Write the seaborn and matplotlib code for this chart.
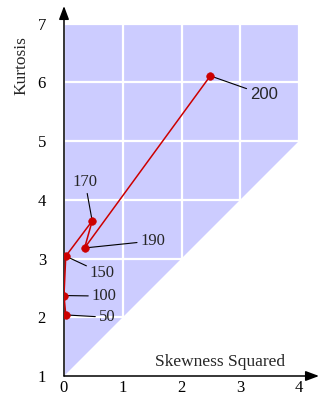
import matplotlib
matplotlib.use("Agg")
import matplotlib.pyplot as plt
import seaborn as sns
import pandas as pd

# Sample sizes and the moments of each sample
sample_sizes = ["50", "100", "150", "170", "190", "200"]
skewness_sq = [0.03, 0.0, 0.03, 0.48, 0.35, 2.49]
kurtosis = [2.04, 2.37, 3.04, 3.64, 3.18, 6.11]

# Where each sample-size label sits
label_x = [0.73, 0.68, 0.65, 0.36, 1.51, 3.40]
label_y = [2.00, 2.36, 2.75, 4.30, 3.30, 5.79]

x_ticks = [0, 1, 2, 3, 4]
y_ticks = [1, 2, 3, 4, 5, 6, 7]

# Feasible region boundary: kurtosis >= skewness^2 + 1
region_x = [0, 0, 4, 4]
region_y = [1, 7, 7, 5]

df = pd.DataFrame({"n": sample_sizes, "b1": skewness_sq, "b2": kurtosis})

sns.set_style("white")
plt.rcParams["font.family"] = ["Liberation Serif", "DejaVu Serif"]

fig = plt.figure(figsize=(3.29, 4.01), dpi=100)
ax = fig.add_axes([64 / 329, 25 / 401, 255 / 329, 370 / 401])

ax.fill(region_x, region_y, color="#ccccff", lw=0, zorder=0)

ax.set_xlim(0, 4.34)
ax.set_ylim(1, 7.3)
ax.set_xticks(x_ticks)
ax.set_yticks(y_ticks)
ax.grid(True, color="white", lw=1.6)
ax.set_axisbelow(True)

for s in ax.spines.values():
    s.set_visible(False)

# Axis lines with arrow heads
arrow = dict(arrowstyle="-|>,head_length=0.8,head_width=0.3", color="black",
             lw=1.1, shrinkA=0, shrinkB=0)
ax.annotate("", xy=(1.0, 0), xytext=(0, 0), xycoords="axes fraction",
            textcoords="axes fraction", arrowprops=arrow, annotation_clip=False)
ax.annotate("", xy=(0, 1.0), xytext=(0, 0), xycoords="axes fraction",
            textcoords="axes fraction", arrowprops=arrow, annotation_clip=False)

ax.tick_params(axis="x", direction="in", length=4, width=0.8, colors="black",
               labelsize=12, pad=3)
ax.tick_params(axis="y", length=0, labelsize=12, pad=13)
for lab in ax.get_xticklabels() + ax.get_yticklabels():
    lab.set_color("black")

sns.lineplot(data=df, x="b1", y="b2", sort=False, estimator=None,
             color="#cc0000", lw=1.1, ax=ax, zorder=3)
sns.scatterplot(data=df, x="b1", y="b2", color="#cc0000", s=30,
                edgecolor="#cc0000", ax=ax, zorder=4)

for n, x, y, tx, ty in zip(sample_sizes, skewness_sq, kurtosis, label_x, label_y):
    fam = ["Liberation Sans"] if n == "200" else ["Liberation Serif"]
    ax.annotate(n, xy=(x, y), xytext=(tx, ty), ha="center", va="center",
                fontsize=12, family=fam,
                arrowprops=dict(arrowstyle="-", color="black", lw=0.8,
                                shrinkA=0, shrinkB=1))

ax.set_xlabel("")
ax.set_ylabel("")
fig.text(285 / 329, 1 - 362 / 401, "Skewness Squared", ha="right", va="center",
         fontsize=12.5)
fig.text(21 / 329, 1 - 66 / 401, "Kurtosis", ha="center", va="center",
         rotation=90, fontsize=12.5)

fig.savefig("out.png", dpi=100)
